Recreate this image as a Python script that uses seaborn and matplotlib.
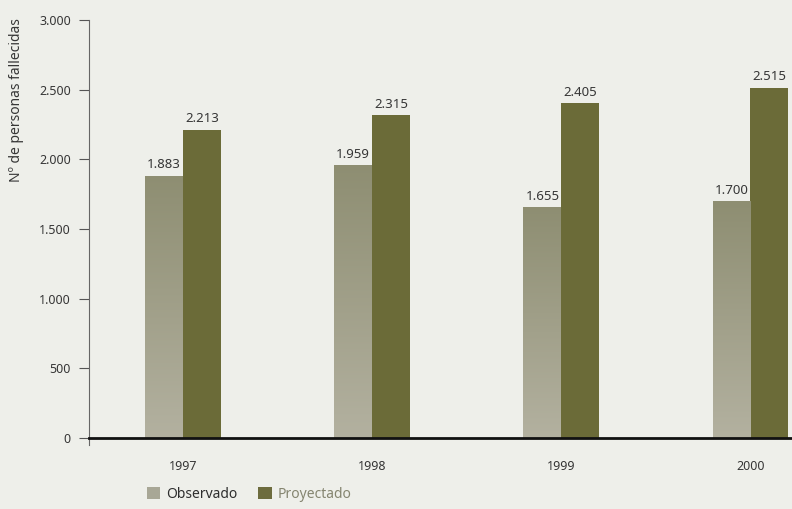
import matplotlib
matplotlib.use("Agg")
import matplotlib.pyplot as plt
import numpy as np
import pandas as pd
import seaborn as sns
from matplotlib.patches import Patch
from matplotlib.colors import LinearSegmentedColormap

years = ["1997", "1998", "1999", "2000"]
observado = [1883, 1959, 1655, 1700]
proyectado = [2213, 2315, 2405, 2515]
series_names = ["Observado", "Proyectado"]
y_ticks = [0, 500, 1000, 1500, 2000, 2500, 3000]
y_tick_labels = ["0", "500", "1.000", "1.500", "2.000", "2.500", "3.000"]

df = pd.DataFrame({
    "Año": years * 2,
    "Serie": [series_names[0]] * len(years) + [series_names[1]] * len(years),
    "Valor": observado + proyectado,
})

bg = "#eeefea"
c_obs = "#a5a48f"
c_proj = "#6b6b38"
txt = "#363636"

sns.set_theme(style="white")
plt.rcParams["font.family"] = ["Noto Sans", "DejaVu Sans"]

fig = plt.figure(figsize=(7.92, 5.09), dpi=100, facecolor=bg)
ax = fig.add_axes([89 / 792, 1 - 438 / 509, 1 - 89 / 792, (438 - 20) / 509])
ax.set_facecolor(bg)

sns.barplot(data=df, x="Año", y="Valor", hue="Serie", hue_order=series_names,
            palette=[c_obs, c_proj], width=0.4, dodge=True, gap=0,
            saturation=1, legend=False, linewidth=0, edgecolor="none", ax=ax)

# vertical shading on the observed bars: darker at the top, lighter at the base
grad = np.linspace(0, 1, 256).reshape(-1, 1)
cmap = LinearSegmentedColormap.from_list("obs", ["#b3b1a0", "#8e8e72"])
obs_bars = ax.patches[:len(years)]
for bar in obs_bars:
    x0, w, h = bar.get_x(), bar.get_width(), bar.get_height()
    im = ax.imshow(grad, cmap=cmap, aspect="auto", origin="lower",
                   extent=[x0, x0 + w, 0, h], zorder=bar.get_zorder() + 0.1)
    im.set_clip_path(bar)
ax.set_xlim(-0.497, 3.22)
ax.set_ylim(0, 3000)

# value labels
for bar, v in zip(ax.patches, observado + proyectado):
    ax.text(bar.get_x() + bar.get_width() / 2, bar.get_height() + 30,
            f"{v:,}".replace(",", "."), ha="center", va="bottom",
            fontsize=9.5, color=txt)

ax.set_yticks(y_ticks)
ax.set_yticklabels(y_tick_labels, fontsize=9, color=txt)
ax.set_xticks(range(len(years)))
ax.set_xticklabels(years, fontsize=9, color=txt)
ax.tick_params(axis="y", direction="out", length=7, width=0.8, color="#555555", pad=6, left=True)
ax.tick_params(axis="x", length=0, pad=16)
ax.set_xlabel("")
ax.set_ylabel("")

for s in ["top", "right"]:
    ax.spines[s].set_visible(False)
ax.spines["left"].set_color("#666666")
ax.spines["left"].set_linewidth(0.8)
ax.spines["left"].set_bounds(-50, 3000)
ax.spines["bottom"].set_color("#111111")
ax.spines["bottom"].set_linewidth(2)
ax.grid(False)

fig.text(17 / 792, 1 - 100 / 509, "Nº de personas fallecidas", rotation=90,
         ha="center", va="center", fontsize=10, color=txt)

handles = [Patch(facecolor="#a8a796", edgecolor="none"),
           Patch(facecolor="#6d6c3e", edgecolor="none")]
leg = fig.legend(handles, series_names, loc="center left",
                 bbox_to_anchor=(134 / 792, 1 - 494 / 509), ncol=2,
                 frameon=False, fontsize=10, handlelength=1.0, handleheight=1.0,
                 handletextpad=0.4, columnspacing=1.5)
leg.get_texts()[0].set_color("#2e2e2e")
leg.get_texts()[1].set_color("#858570")

fig.savefig("out.png", dpi=100, facecolor=bg)
